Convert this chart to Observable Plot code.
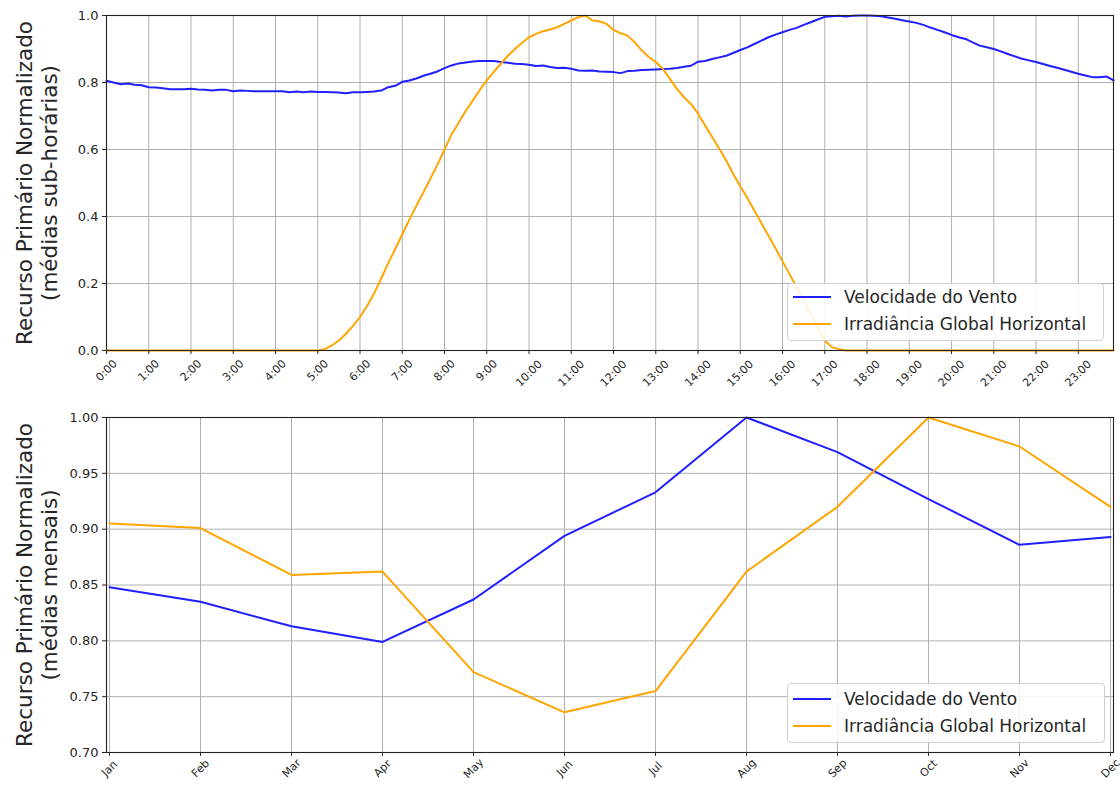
<!DOCTYPE html>
<html>
<head>
<meta charset="utf-8">
<script src="https://cdn.jsdelivr.net/npm/d3@7"></script>
<script src="https://cdn.jsdelivr.net/npm/@observablehq/plot@0.6"></script>
<style>
  body { margin: 0; background: white; font-family: "DejaVu Sans", sans-serif; }
  .panel { position: relative; width: 1120px; }
  .legend { position: absolute; background: rgba(255,255,255,0.85); border: 1px solid #d0d0d0; border-radius: 4px; box-sizing: border-box; font-family: "DejaVu Sans", sans-serif; font-size: 17px; color: #262626; }
  .legend .item { position: absolute; left: 0; height: 20px; display: flex; align-items: center; white-space: nowrap; }
  .legend .swatch { display: inline-block; width: 38px; height: 2px; margin-left: 5px; margin-right: 13px; }
</style>
</head>
<body>
<div id="topPanel" class="panel"></div>
<div id="bottomPanel" class="panel"></div>
<script>
// ---------- DATA ----------
// Sub-hourly (10-minute) normalized averages, 0:00 .. 23:50
const windSub = [
  0.805, 0.800, 0.795, 0.797, 0.793, 0.792,
  0.786, 0.785, 0.783, 0.780, 0.780, 0.780,
  0.781, 0.779, 0.778, 0.776, 0.778, 0.778,
  0.774, 0.776, 0.775, 0.774, 0.774, 0.774,
  0.774, 0.774, 0.771, 0.773, 0.771, 0.773,
  0.772, 0.772, 0.771, 0.770, 0.768, 0.771,
  0.771, 0.772, 0.773, 0.776, 0.786, 0.790,
  0.802, 0.806, 0.812, 0.820, 0.826, 0.833,
  0.843, 0.851, 0.857, 0.860, 0.863, 0.864,
  0.864, 0.864, 0.861, 0.859, 0.856, 0.855,
  0.853, 0.849, 0.851, 0.846, 0.843, 0.844,
  0.841, 0.836, 0.835, 0.836, 0.833, 0.832,
  0.831, 0.828, 0.834, 0.835, 0.837, 0.838,
  0.839, 0.840, 0.841, 0.843, 0.847, 0.850,
  0.862, 0.864, 0.870, 0.875, 0.880, 0.888,
  0.897, 0.905, 0.915, 0.925, 0.935, 0.943,
  0.950, 0.957, 0.963, 0.972, 0.980, 0.988,
  0.996, 0.998, 0.999, 0.997, 0.999, 1.000,
  1.000, 0.999, 0.998, 0.994, 0.990, 0.986,
  0.982, 0.978, 0.972, 0.964, 0.957, 0.950,
  0.942, 0.935, 0.930, 0.920, 0.910, 0.905,
  0.900, 0.893, 0.885, 0.878, 0.871, 0.866,
  0.861, 0.855, 0.849, 0.844, 0.838, 0.832,
  0.826, 0.821, 0.816, 0.816, 0.818, 0.806
];
const irrSub = [
  0, 0, 0, 0, 0, 0,
  0, 0, 0, 0, 0, 0,
  0, 0, 0, 0, 0, 0,
  0, 0, 0, 0, 0, 0,
  0, 0, 0, 0, 0, 0,
  0, 0.004, 0.015, 0.030, 0.050, 0.073,
  0.100, 0.133, 0.170, 0.215, 0.260, 0.303,
  0.347, 0.390, 0.432, 0.472, 0.513, 0.555,
  0.600, 0.645, 0.680, 0.715, 0.746, 0.777,
  0.806, 0.832, 0.856, 0.880, 0.900, 0.918,
  0.935, 0.945, 0.953, 0.958, 0.965, 0.975,
  0.985, 0.995, 1.000, 0.985, 0.983, 0.975,
  0.957, 0.947, 0.940, 0.920, 0.896, 0.876,
  0.861, 0.841, 0.811, 0.781, 0.756, 0.736,
  0.707, 0.672, 0.637, 0.603, 0.567, 0.527,
  0.490, 0.455, 0.418, 0.380, 0.343, 0.305,
  0.266, 0.228, 0.189, 0.150, 0.110, 0.070,
  0.030, 0.010, 0.004, 0, 0, 0,
  0, 0, 0, 0, 0, 0,
  0, 0, 0, 0, 0, 0,
  0, 0, 0, 0, 0, 0,
  0, 0, 0, 0, 0, 0,
  0, 0, 0, 0, 0, 0,
  0, 0, 0, 0, 0, 0
];
const hourLabels = ["0:00","1:00","2:00","3:00","4:00","5:00","6:00","7:00","8:00","9:00","10:00","11:00",
  "12:00","13:00","14:00","15:00","16:00","17:00","18:00","19:00","20:00","21:00","22:00","23:00"];

const months = ["Jan","Feb","Mar","Apr","May","Jun","Jul","Aug","Sep","Oct","Nov","Dec"];
const windMonthly = [0.848, 0.835, 0.813, 0.799, 0.837, 0.894, 0.933, 1.000, 0.969, 0.927, 0.886, 0.893];
const irrMonthly  = [0.905, 0.901, 0.859, 0.862, 0.772, 0.736, 0.755, 0.862, 0.920, 1.000, 0.974, 0.920];

const seriesNames = ["Velocidade do Vento", "Irradiância Global Horizontal"];
const seriesColors = ["#1f1fff", "#ffa500"];
const yLabelTop = "Recurso Primário Normalizado\n(médias sub-horárias)";
const yLabelBottom = "Recurso Primário Normalizado\n(médias mensais)";

// ---------- BUILD ----------
const STEPS_PER_HOUR = 6;
const subRows = windSub.map((w, i) => ({i, wind: w, irr: irrSub[i]}));
const hourTicks = hourLabels.map((_, h) => h * STEPS_PER_HOUR);
const hourFmt = i => hourLabels[i / STEPS_PER_HOUR];
const monthRows = months.map((m, k) => ({m, wind: windMonthly[k], irr: irrMonthly[k]}));

const gridStyle = {stroke: "#b0b0b0", strokeOpacity: 1, strokeWidth: 1};
const textColor = "#262626";
const baseStyle = {fontFamily: "DejaVu Sans, sans-serif", color: textColor, background: "white", overflow: "visible"};
const LW = 2;

function yLabelMark(label) {
  return Plot.text([label], {
    frameAnchor: "left", text: d => d, rotate: -90, dx: -70,
    textAnchor: "middle", lineAnchor: "middle", fontSize: 21.5, lineHeight: 1.16, fill: textColor
  });
}

const topChart = Plot.plot({
  width: 1120, height: 390,
  marginLeft: 106, marginRight: 7, marginTop: 15, marginBottom: 40,
  style: baseStyle,
  x: {type: "linear", domain: [0, windSub.length - 1]},
  y: {domain: [0, 1]},
  marks: [
    Plot.gridX(hourTicks, gridStyle),
    Plot.gridY(d3.range(0, 1.01, 0.2), gridStyle),
    Plot.line(subRows, {x: "i", y: "wind", stroke: seriesColors[0], strokeWidth: LW}),
    Plot.line(subRows, {x: "i", y: "irr", stroke: seriesColors[1], strokeWidth: LW}),
    Plot.frame({stroke: "#222", strokeWidth: 1.1}),
    Plot.axisY(d3.range(0, 1.01, 0.2), {tickSize: 4, tickPadding: 4, tickFormat: d3.format(".1f"), fontSize: 13, label: null}),
    Plot.axisX(hourTicks.filter(t => t < 60), {tickSize: 4, tickPadding: 16, tickRotate: -45, textAnchor: "middle", lineAnchor: "middle", tickFormat: hourFmt, fontSize: 11, label: null}),
    Plot.axisX(hourTicks.filter(t => t >= 60), {tickSize: 4, tickPadding: 19, tickRotate: -45, textAnchor: "middle", lineAnchor: "middle", tickFormat: hourFmt, fontSize: 11, label: null}),
    yLabelMark(yLabelTop)
  ]
});

const bottomChart = Plot.plot({
  width: 1120, height: 395,
  marginLeft: 106, marginRight: 7, marginTop: 27, marginBottom: 33,
  style: baseStyle,
  x: {type: "point", domain: months, padding: 0},
  y: {domain: [0.70, 1.00]},
  marks: [
    Plot.gridX(months, gridStyle),
    Plot.gridY(d3.range(0.70, 1.001, 0.05), gridStyle),
    Plot.line(monthRows, {x: "m", y: "wind", stroke: seriesColors[0], strokeWidth: LW}),
    Plot.line(monthRows, {x: "m", y: "irr", stroke: seriesColors[1], strokeWidth: LW}),
    Plot.frame({stroke: "#222", strokeWidth: 1.1}),
    Plot.axisY(d3.range(0.70, 1.001, 0.05), {tickSize: 4, tickPadding: 4, tickFormat: d3.format(".2f"), fontSize: 13, label: null}),
    Plot.axisX(months, {tickSize: 4, tickPadding: 12, tickRotate: -45, textAnchor: "middle", lineAnchor: "middle", fontSize: 11, label: null}),
    yLabelMark(yLabelBottom)
  ]
});

document.getElementById("topPanel").appendChild(topChart);
document.getElementById("bottomPanel").appendChild(bottomChart);

function addLegend(container, box, rowYs) {
  const lg = document.createElement("div");
  lg.className = "legend";
  lg.style.left = box.left + "px";
  lg.style.top = box.top + "px";
  lg.style.width = box.width + "px";
  lg.style.height = box.height + "px";
  seriesNames.forEach((name, k) => {
    const it = document.createElement("div");
    it.className = "item";
    it.style.top = (rowYs[k] - box.top - 10) + "px";
    const sw = document.createElement("span");
    sw.className = "swatch";
    sw.style.background = seriesColors[k];
    const tx = document.createElement("span");
    tx.textContent = name;
    it.appendChild(sw); it.appendChild(tx);
    lg.appendChild(it);
  });
  container.appendChild(lg);
}
addLegend(document.getElementById("topPanel"), {left: 787, top: 283, width: 317, height: 58}, [296, 323]);
addLegend(document.getElementById("bottomPanel"), {left: 787, top: 683 - 390, width: 318, height: 60}, [698 - 390, 725 - 390]);
</script>
</body>
</html>
